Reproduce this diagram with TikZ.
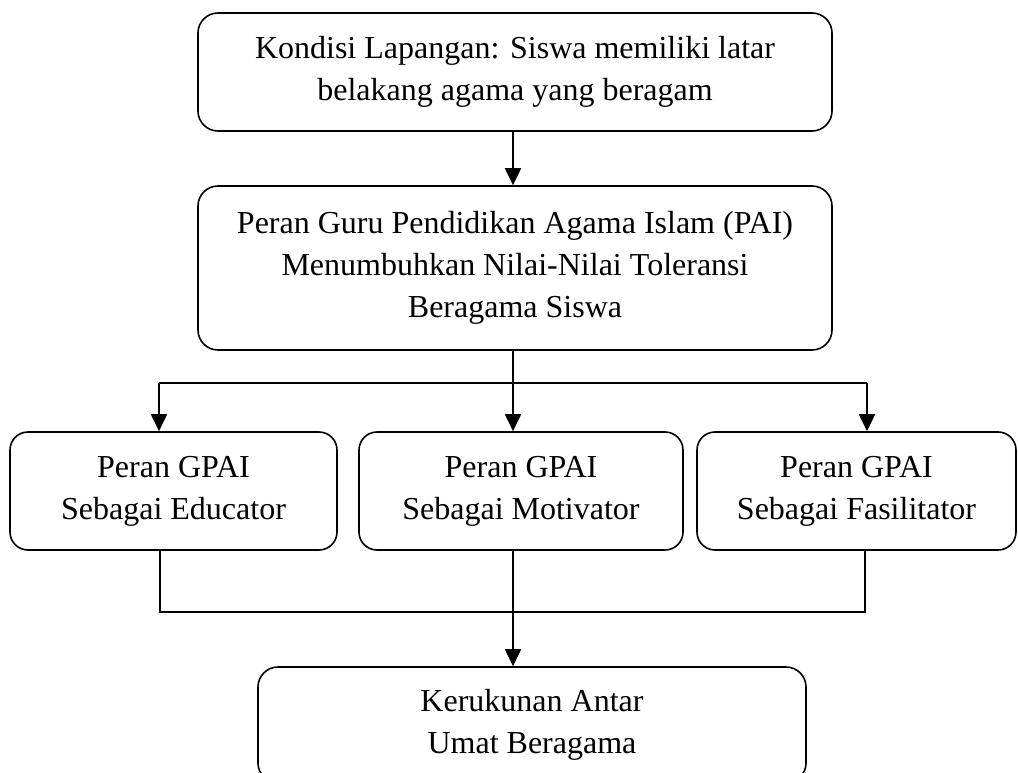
\documentclass[tikz,border=0pt]{standalone}
\usepackage{fontspec}
\setmainfont{Liberation Serif}
\usetikzlibrary{arrows.meta,calc}
\begin{document}
\begin{tikzpicture}[x=1pt,y=-1pt,
  box/.style={draw,line width=1.6pt,rounded corners=20pt,align=center,inner sep=0pt,
    font=\fontsize{32}{42}\selectfont},
  conn/.style={line width=1.8pt},
  arr/.style={conn,-{Triangle[length=17pt,width=16pt]}}]
\useasboundingbox (0,0) rectangle (1018,773);
\node[box,minimum width=634pt,minimum height=118pt] (top) at (515,72)
  {Kondisi Lapangan: Siswa memiliki latar\\belakang agama yang beragam};
\node[box,minimum width=634pt,minimum height=164pt] (peran) at (515,268)
  {Peran Guru Pendidikan Agama Islam (PAI)\\Menumbuhkan Nilai-Nilai Toleransi\\Beragama Siswa};
\node[box,rounded corners=18pt,minimum width=327pt,minimum height=118pt] (edu) at (173.5,491)
  {Peran GPAI\\Sebagai Educator};
\node[box,rounded corners=18pt,minimum width=324pt,minimum height=118pt] (mot) at (521,491)
  {Peran GPAI\\Sebagai Motivator};
\node[box,rounded corners=18pt,minimum width=319pt,minimum height=118pt] (fas) at (856.5,491)
  {Peran GPAI\\Sebagai Fasilitator};
\node[box,minimum width=548pt,minimum height=116pt] (res) at (532,725)
  {Kerukunan Antar\\Umat Beragama};
% top to peran
\draw[arr] ([xshift=-2pt]top.south) -- ([xshift=-2pt]peran.north);
% fork
\coordinate (hl) at (159,383);
\coordinate (hr) at (867,383);
\draw[conn] (hl) -- (hr);
\draw[arr] (hl) -- (hl |- edu.north);
\draw[arr] ([xshift=-2pt]peran.south) -- ([xshift=-2pt]peran.south |- mot.north);
\draw[arr] (hr) -- (hr |- fas.north);
% join
\coordinate (bl) at (160,612);
\coordinate (br) at (865,612);
\draw[conn] (bl |- edu.south) -- (bl) -- (br) -- (br |- fas.south);
\draw[arr] ([xshift=-8pt]mot.south) -- ([xshift=-8pt]mot.south |- res.north);
\end{tikzpicture}
\end{document}
